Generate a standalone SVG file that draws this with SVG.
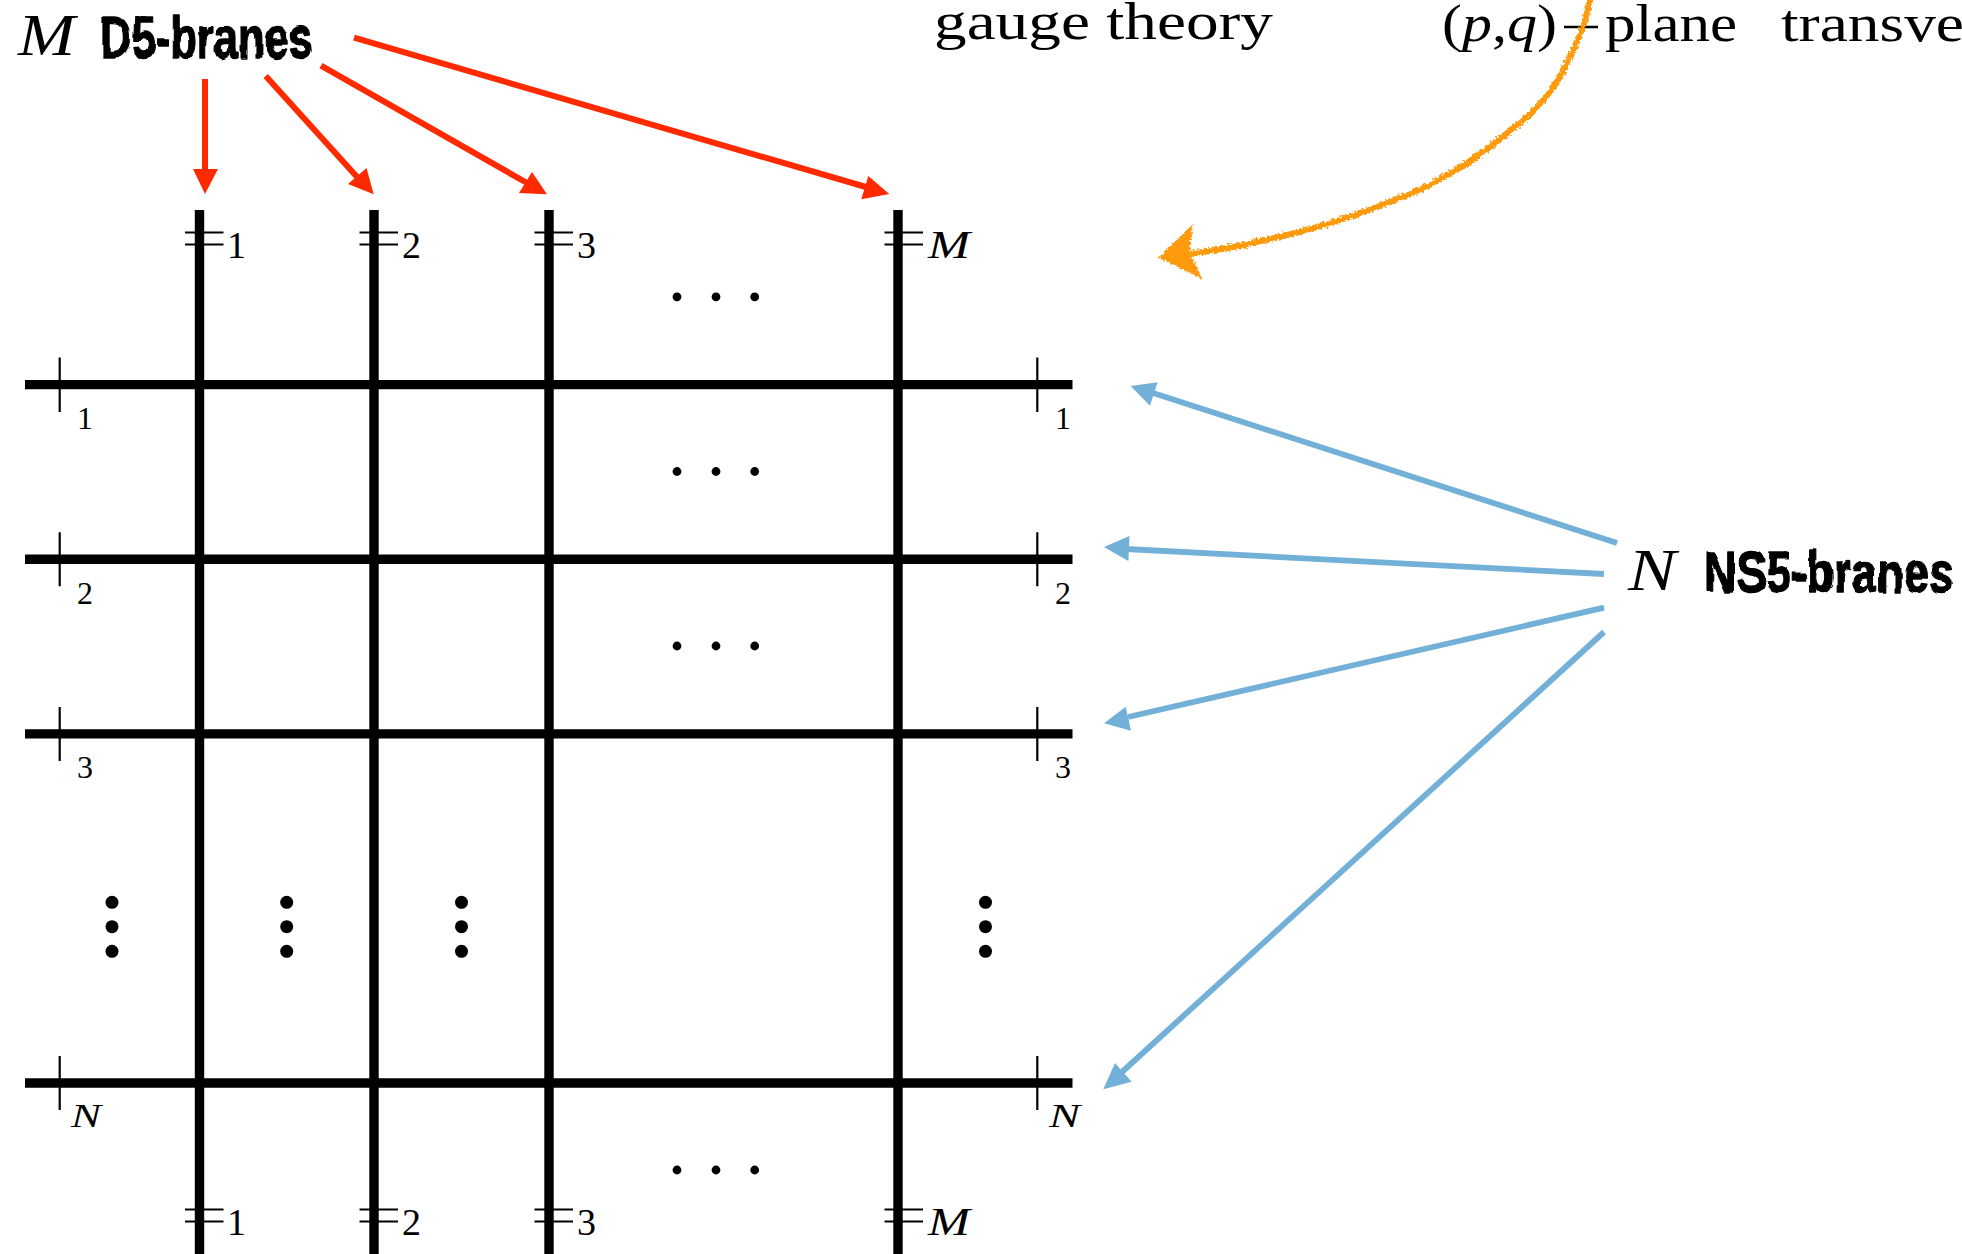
<svg xmlns="http://www.w3.org/2000/svg" width="1962" height="1254" viewBox="0 0 1962 1254">
<style>
.brane{stroke:#000;stroke-width:9.4;fill:none}
.tick{stroke:#000;stroke-width:2.2;fill:none}
.dot{fill:#000}
.red{stroke:#ff2a00;stroke-width:6;fill:none}
.redh{fill:#ff2a00}
.blue{stroke:#72b0d7;stroke-width:5.8;fill:none}
.blueh{fill:#72b0d7}
.cm{font-family:"Liberation Serif",serif;fill:#000}
.it{font-style:italic}
.brand{font-family:"Liberation Sans",sans-serif;font-weight:700;fill:#000;stroke:#000;stroke-width:1.4;stroke-linejoin:round}
</style>
<defs>
<filter id="rough" x="-10%" y="-10%" width="120%" height="120%">
<feTurbulence type="fractalNoise" baseFrequency="0.4" numOctaves="2" seed="4"/>
<feDisplacementMap in="SourceGraphic" scale="6" xChannelSelector="R" yChannelSelector="G"/>
</filter>
<filter id="wobble" x="-5%" y="-10%" width="110%" height="120%">
<feTurbulence type="fractalNoise" baseFrequency="0.07" numOctaves="1" seed="9"/>
<feDisplacementMap in="SourceGraphic" scale="5" xChannelSelector="R" yChannelSelector="G"/>
</filter>
</defs>
<rect width="1962" height="1254" fill="#fff"/>

<g id="grid">
<path class="brane" d="M199.5 210V1254M374 210V1254M549 210V1254M898 210V1254"/>
<path class="brane" d="M25 384.6H1072.5M25 559.3H1072.5M25 733.9H1072.5M25 1083H1072.5"/>
<path class="tick" d="M59.7 357.6V412M59.7 532.3V586.3M59.7 706.9V760.9M59.7 1056V1110M1037.3 357.6V412M1037.3 532.3V586.3M1037.3 706.9V760.9M1037.3 1056V1110"/>
<path class="tick" d="M185 232.5H223.5M185 244.5H223.5M359.5 232.5H398M359.5 244.5H398M534.5 232.5H573M534.5 244.5H573M884.5 232.5H923M884.5 244.5H923"/>
<path class="tick" d="M185 1209.5H223.5M185 1221.5H223.5M359.5 1209.5H398M359.5 1221.5H398M534.5 1209.5H573M534.5 1221.5H573M884.5 1209.5H923M884.5 1221.5H923"/>
</g>

<g id="dots">
<g class="dot">
<circle cx="677" cy="296.8" r="4.4"/><circle cx="716" cy="296.8" r="4.4"/><circle cx="754.7" cy="296.8" r="4.4"/>
<circle cx="677" cy="471.5" r="4.4"/><circle cx="716" cy="471.5" r="4.4"/><circle cx="754.7" cy="471.5" r="4.4"/>
<circle cx="677" cy="646" r="4.4"/><circle cx="716" cy="646" r="4.4"/><circle cx="754.7" cy="646" r="4.4"/>
<circle cx="677" cy="1170" r="4.4"/><circle cx="716" cy="1170" r="4.4"/><circle cx="754.7" cy="1170" r="4.4"/>
<circle cx="112" cy="902.3" r="6.5"/><circle cx="112" cy="926.7" r="6.5"/><circle cx="112" cy="951.3" r="6.5"/>
<circle cx="286.7" cy="902.3" r="6.5"/><circle cx="286.7" cy="926.7" r="6.5"/><circle cx="286.7" cy="951.3" r="6.5"/>
<circle cx="461.5" cy="902.3" r="6.5"/><circle cx="461.5" cy="926.7" r="6.5"/><circle cx="461.5" cy="951.3" r="6.5"/>
<circle cx="985.5" cy="902.3" r="6.5"/><circle cx="985.5" cy="926.7" r="6.5"/><circle cx="985.5" cy="951.3" r="6.5"/>
</g>
</g>

<g id="brane-labels">
<g class="cm" font-size="38">
<text x="227" y="258">1</text><text x="402" y="258">2</text><text x="577" y="258">3</text>
<text x="928" y="258" class="it" textLength="42" lengthAdjust="spacingAndGlyphs" font-size="40">M</text>
<text x="227" y="1235">1</text><text x="402" y="1235">2</text><text x="577" y="1235">3</text>
<text x="928" y="1235" class="it" textLength="42" lengthAdjust="spacingAndGlyphs" font-size="40">M</text>
</g>
<g class="cm" font-size="32">
<text x="77" y="429">1</text><text x="77" y="603.5">2</text><text x="77" y="778">3</text>
<text x="71" y="1127" class="it" textLength="30" lengthAdjust="spacingAndGlyphs" font-size="34">N</text>
<text x="1055" y="429">1</text><text x="1055" y="603.5">2</text><text x="1055" y="778">3</text>
<text x="1049" y="1127" class="it" textLength="31" lengthAdjust="spacingAndGlyphs" font-size="34">N</text>
</g>
</g>

<g id="node-d5">
<text x="18" y="55" class="cm it" font-size="60" textLength="57" lengthAdjust="spacingAndGlyphs">M</text>
<text x="100" y="58" class="brand" font-size="60" textLength="213" lengthAdjust="spacingAndGlyphs" filter="url(#wobble)">D5-branes</text>
</g>
<g id="node-ns5">
<text x="1628" y="590" class="cm it" font-size="60" textLength="48" lengthAdjust="spacingAndGlyphs">N</text>
<text x="1704" y="592" class="brand" font-size="58" textLength="250" lengthAdjust="spacingAndGlyphs" filter="url(#wobble)">NS5-branes</text>
</g>
<g id="node-top">
<text x="934" y="39" class="cm" font-size="53" textLength="339" lengthAdjust="spacingAndGlyphs">gauge theory</text>
<text x="1442" y="41" class="cm" font-size="53" textLength="115" lengthAdjust="spacingAndGlyphs">(<tspan class="it">p</tspan>,<tspan class="it">q</tspan>)</text>
<path d="M1564 27H1598" stroke="#000" stroke-width="2.6" fill="none"/>
<text x="1605" y="41" class="cm" font-size="53" textLength="132" lengthAdjust="spacingAndGlyphs">plane</text>
<text x="1781" y="41" class="cm" font-size="53" textLength="183" lengthAdjust="spacingAndGlyphs">transve</text>
</g>

<g id="connectors">
<g class="red">
<path d="M205 79V172"/>
<path d="M265.7 76L358 178"/>
<path d="M321 65.7L527 183"/>
<path d="M354 37.7L866 187"/>
</g>
<g class="redh">
<path d="M205 194L193 169H218Z"/>
<path d="M373.7 194.3L348 184L366.5 168Z"/>
<path d="M547 194.3L519 193L532 172Z"/>
<path d="M889.3 194L861.3 199.3L868.3 176Z"/>
</g>
<g class="blue">
<path d="M1617 543L1150 392"/>
<path d="M1604 574L1126 549"/>
<path d="M1604 607.7L1128 717"/>
<path d="M1604 632L1122 1072"/>
</g>
<g class="blueh">
<path d="M1130.6 386L1157.6 382.3L1150 405.7Z"/>
<path d="M1104 547L1129.5 536L1128.4 561Z"/>
<path d="M1104 723.3L1125.7 706.7L1131 730.7Z"/>
<path d="M1103.3 1089.3L1115 1063L1131.7 1081.7Z"/>
</g>
<g filter="url(#rough)">
<path d="M1591 -6C1587 20 1577 44 1567 63C1558 86 1530 118 1513 128C1500 140 1486 150 1476 157C1462 167 1449 174 1435 182C1415 194 1395 199 1374 208C1350 218 1330 223 1306 230C1288 235 1270 239 1252 243C1235 247 1215 250 1190 254" fill="none" stroke="#ff9a0d" stroke-width="6"/>
<path d="M1161 257L1191 228L1188 253L1199 276Z" fill="#ff9a0d" stroke="#ff9a0d" stroke-width="3"/>
</g>
</g>
</svg>
